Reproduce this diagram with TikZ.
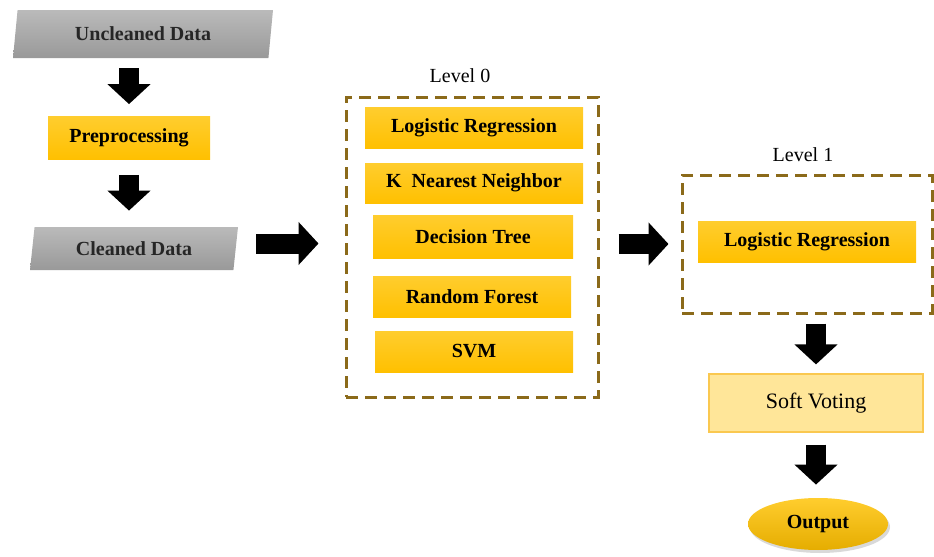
\documentclass[tikz,border=0pt]{standalone}
\usepackage{fontspec}
\setmainfont{Liberation Serif}
\usetikzlibrary{arrows.meta,shapes.geometric,shadows}

\definecolor{boxgold}{HTML}{FFC000}
\definecolor{boxgoldtop}{HTML}{FFCD2E}
\definecolor{dashbrown}{HTML}{8B6A1A}
\definecolor{softfill}{HTML}{FFE699}
\definecolor{softline}{HTML}{FAC850}

\tikzset{
  databox/.style={trapezium, trapezium left angle=72, trapezium right angle=108,
    trapezium stretches body, inner sep=0pt, top color=black!27, bottom color=black!40,
    font=\bfseries\color{black!85}},
  stepbox/.style={rectangle, inner sep=0pt, top color=boxgoldtop, bottom color=boxgold,
    font=\bfseries},
  levelbox/.style={rectangle, inner sep=0pt, draw=dashbrown, line width=1.5pt,
    dash pattern=on 6pt off 3.5pt},
  votebox/.style={rectangle, inner sep=0pt, fill=softfill, draw=softline, line width=0.6pt,
    font=\fontsize{11}{13}\selectfont},
  outnode/.style={ellipse, inner sep=0pt, top color=boxgoldtop, bottom color=boxgold!90!black,
    drop shadow={shadow xshift=1pt, shadow yshift=-1.5pt, opacity=0.3}, font=\bfseries},
  blockarrow/.style={line width=10pt, -{Triangle[length=10pt, width=21pt]}}
}

\begin{document}
\begin{tikzpicture}[x=0.5pt, y=-0.5pt]
\useasboundingbox (0,0) rectangle (934,557);

% left column
\node[databox, minimum width=130pt, minimum height=24pt] (unc) at (143, 34) {Uncleaned Data};
\node[stepbox, minimum width=81pt, minimum height=21.5pt] (pre) at (129, 138) {Preprocessing};
\node[databox, minimum width=104pt, minimum height=21.5pt] (cln) at (134, 248.5) {Cleaned Data};

% level 0
\node[levelbox, minimum width=126pt, minimum height=150pt] (lvl0) at (472, 247) {};
\node (lab0) at (460, 76) {Level 0};
\node[stepbox, minimum width=109pt, minimum height=20.5pt] (lr0) at (474, 128) {Logistic Regression};
\node[stepbox, minimum width=109pt, minimum height=20pt] (knn) at (474, 183) {K~ Nearest Neighbor};
\node[stepbox, minimum width=100pt, minimum height=21.5pt] (dt) at (473, 236.5) {Decision Tree};
\node[stepbox, minimum width=99pt, minimum height=20.5pt] (rf) at (472, 296.5) {Random Forest};
\node[stepbox, minimum width=99pt, minimum height=20.5pt] (svm) at (474, 351.5) {SVM};

% level 1
\node[levelbox, minimum width=125pt, minimum height=69pt] (lvl1) at (807, 244) {};
\node (lab1) at (803, 155) {Level 1};
\node[stepbox, minimum width=109pt, minimum height=20.5pt] (lr1) at (807, 241.5) {Logistic Regression};

% output part
\node[votebox, minimum width=107pt, minimum height=29pt] (soft) at (816, 403) {Soft Voting};
\node[outnode, minimum width=70pt, minimum height=26pt] (out) at (818, 524) {Output};

% arrows
\draw[blockarrow, shorten <=5pt, shorten >=6pt] (unc.south -| pre.north) -- (pre.north);
\draw[blockarrow, shorten <=7.5pt, shorten >=8pt] (pre.south) -- (pre.south |- cln.north);
\draw[blockarrow, shorten <=10pt, shorten >=13pt] ([yshift=2.5pt]cln.east) -- ([yshift=2.5pt]cln.east -| lvl0.west);
\draw[blockarrow, shorten <=9.5pt, shorten >=6pt] (lvl0.east |- lvl1.west) -- (lvl1.west);
\draw[blockarrow, shorten <=4.5pt, shorten >=4.5pt] (lvl1.south -| soft.north) -- (soft.north);
\draw[blockarrow, shorten <=6pt, shorten >=6.5pt] (soft.south) -- (soft.south |- out.north);
\end{tikzpicture}
\end{document}
